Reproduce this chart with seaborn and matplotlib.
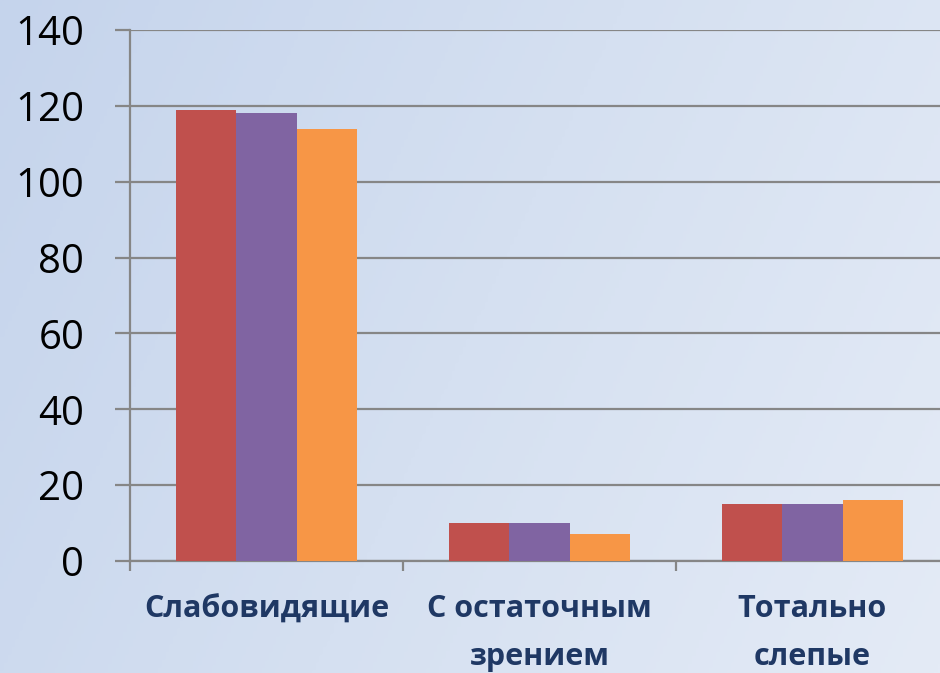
import numpy as np
import pandas as pd
import matplotlib
matplotlib.use('Agg')
import matplotlib.pyplot as plt
import seaborn as sns

# Данные
categories = ['Слабовидящие', 'С остаточным\nзрением', 'Тотально\nслепые']
series = ['Ряд 1', 'Ряд 2', 'Ряд 3']
values_1 = [119, 10, 15]
values_2 = [118, 10, 15]
values_3 = [114, 7, 16]
colors = ['#C0504D', '#8064A2', '#F79646']

df = pd.DataFrame({
    'категория': categories * 3,
    'ряд': [series[0]] * 3 + [series[1]] * 3 + [series[2]] * 3,
    'значение': values_1 + values_2 + values_3,
})

sns.set_style('white')
plt.rcParams['font.family'] = ['Open Sans', 'DejaVu Sans']

fig = plt.figure(figsize=(9.4, 6.73), dpi=100)

# фон - голубой градиент
bg = fig.add_axes([0, 0, 1, 1], zorder=-10)
grad = np.linspace(0, 1, 256)
gx, gy = np.meshgrid(grad, grad)
g = 0.75 * gx + 0.25 * gy
bg.imshow(g, cmap=matplotlib.colors.LinearSegmentedColormap.from_list(
    'bg', ['#C5D4EC', '#D5E0F1', '#E4EBF6']), aspect='auto', extent=[0, 1, 0, 1])
bg.set_xlim(0, 1)
bg.set_ylim(0, 1)
bg.axis('off')

ax = fig.add_axes([130 / 940, (673 - 561) / 673, (949 - 130) / 940, (561 - 30) / 673])
ax.patch.set_alpha(0)

sns.barplot(data=df, x='категория', y='значение', hue='ряд', palette=colors,
            width=0.66, saturation=1, ax=ax, legend=False, zorder=3, linewidth=0)

ax.set_ylim(0, 140)
ax.set_yticks(range(0, 141, 20))
ax.set_xlim(-0.5, 2.5)
ax.set_xlabel('')
ax.set_ylabel('')
ax.grid(axis='y', color='#868686', linewidth=1.6, zorder=0)
ax.set_axisbelow(True)

for s in ['top', 'right']:
    ax.spines[s].set_visible(False)
for s in ['left', 'bottom']:
    ax.spines[s].set_color('#868686')
    ax.spines[s].set_linewidth(1.6)

ax.tick_params(axis='y', length=11, width=1.6, color='#868686', labelsize=29,
               labelcolor='black', pad=22, left=True)
ax.set_xticks([0, 1, 2])
ax.set_xticklabels(categories, fontsize=22, fontweight='bold', color='#1F3864',
                   linespacing=1.75)
ax.tick_params(axis='x', length=0, pad=24)

# деления на границах категорий
ax.set_xticks([-0.5, 0.5, 1.5], minor=True)
ax.tick_params(axis='x', which='minor', length=7, width=1.6, color='#868686', bottom=True)

fig.savefig('out.png', dpi=100)
